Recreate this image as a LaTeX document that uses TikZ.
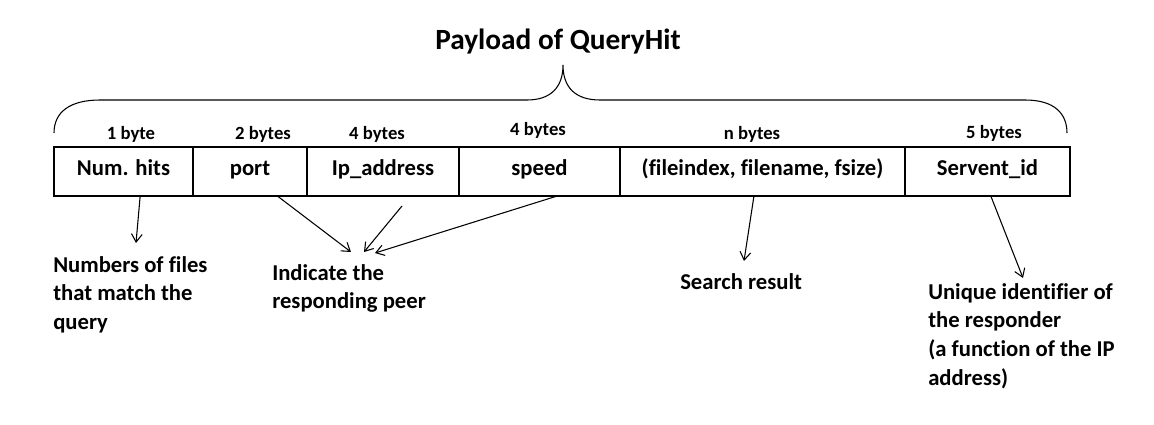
\documentclass[tikz,border=0pt]{standalone}
\usepackage{fontspec}
\setmainfont{Carlito}[Ligatures=CommonOff]
\usetikzlibrary{arrows.meta, positioning, calc}
\tikzset{
  field/.style={
    rectangle, draw, line width=1.5pt, minimum height=36.75pt,
    inner sep=0pt, outer sep=0pt, text height=9.5pt, text depth=4.25pt,
    font=\fontsize{17}{20}\selectfont\bfseries
  },
  bytes/.style={anchor=base, inner sep=0pt, font=\fontsize{14}{16}\selectfont\bfseries},
  note/.style={anchor=north west, align=left, inner sep=0pt, font=\fontsize{17}{21.5}\selectfont\bfseries},
  heading/.style={anchor=base, inner sep=0pt, font=\fontsize{22}{26}\selectfont\bfseries},
  arrowflow/.style={-{Straight Barb[length=6pt,width=8pt]}, line width=0.8pt},
  brace/.style={line width=0.8pt}
}

\begin{document}
\begin{tikzpicture}[x=0.75pt, y=-0.75pt]
\useasboundingbox (0,0) rectangle (1154,425);

% Title and brace
\node[heading] (title) at (558,49) {Payload of QueryHit};
\draw[brace] (54,133) .. controls (54,112) and (70,100) .. (100,100) -- (527,100)
  .. controls (550,100) and (563,88) .. (563,65)
  .. controls (563,88) and (576,100) .. (600,100) -- (1025,100)
  .. controls (1055,100) and (1067,114) .. (1067,133);

% Fields of the payload
\node[field, anchor=west, minimum width=104.25pt] (hits) at (54,171.5) {Num. hits};
\node[field, right=0pt of hits, minimum width=85.5pt] (port) {port};
\node[field, right=0pt of port, minimum width=114pt] (ip) {Ip\_address};
\node[field, right=0pt of ip, minimum width=120.75pt] (speed) {speed};
\node[field, right=0pt of speed, minimum width=213.75pt] (result) {(fileindex, filename, fsize)};
\node[field, right=0pt of result, minimum width=123.75pt] (servent) {Servent\_id};

% Sizes
\node[bytes] (hitsbytes) at (131,139) {1 byte};
\node[bytes] (portbytes) at (263,139) {2 bytes};
\node[bytes] (ipbytes) at (377,139) {4 bytes};
\node[bytes] (speedbytes) at (538,135) {4 bytes};
\node[bytes] (resultbytes) at (752,139) {n bytes};
\node[bytes] (serventbytes) at (994,138) {5 bytes};

% Explanations
\node[note] (files) at (53,256) {Numbers of files\\that match the\\query};
\node[note] (peer) at (272,264) {Indicate the\\responding peer};
\node[note] (search) at (680,273) {Search result};
\node[note] (uid) at (928,283) {Unique identifier of\\the responder\\(a function of the IP\\address)};

% Arrows
\coordinate (filestip) at (136,243);
\coordinate (peertipa) at (351,252);
\coordinate (peertipb) at (364,252);
\coordinate (peertipc) at (375,253);
\coordinate (ipfrom) at (402,206);
\coordinate (searchtip) at (744,261);
\coordinate (uidtip) at (1023,278);
\draw[arrowflow] ($(hits.south west)!0.62!(hits.south east)$) -- (filestip);
\draw[arrowflow] ($(port.south west)!0.74!(port.south east)$) -- (peertipa);
\draw[arrowflow] (ipfrom) -- (peertipb);
\draw[arrowflow] ($(speed.south west)!0.61!(speed.south east)$) -- (peertipc);
\draw[arrowflow] ($(result.south west)!0.47!(result.south east)$) -- (searchtip);
\draw[arrowflow] ($(servent.south west)!0.52!(servent.south east)$) -- (uidtip);

\end{tikzpicture}
\end{document}
